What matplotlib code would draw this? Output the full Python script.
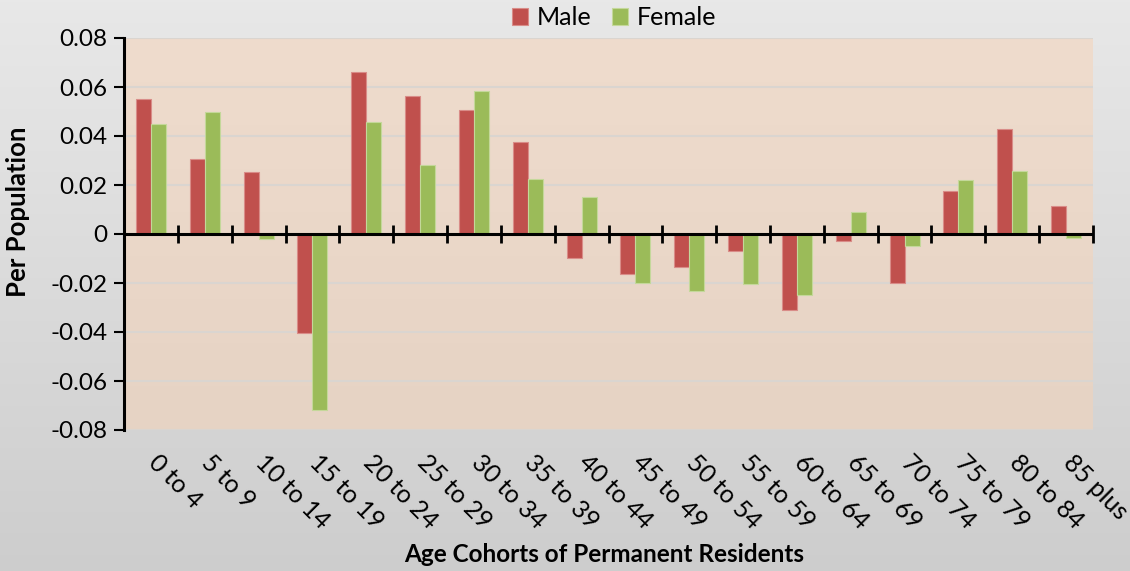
import numpy as np
import matplotlib
matplotlib.use("Agg")
import matplotlib.pyplot as plt
from matplotlib.ticker import FixedLocator, FuncFormatter

plt.rcParams['font.family'] = ['Lato', 'DejaVu Sans']
plt.rcParams['axes.unicode_minus'] = False

# data
cohorts = ['0 to 4', '5 to 9', '10 to 14', '15 to 19', '20 to 24', '25 to 29',
           '30 to 34', '35 to 39', '40 to 44', '45 to 49', '50 to 54', '55 to 59',
           '60 to 64', '65 to 69', '70 to 74', '75 to 79', '80 to 84', '85 plus']
male = [0.055, 0.0305, 0.0252, -0.0403, 0.0661, 0.0565,
        0.0507, 0.0377, -0.0096, -0.0163, -0.0134, -0.0071,
        -0.0310, -0.0027, -0.0199, 0.0175, 0.0430, 0.0115]
female = [0.045, 0.0498, -0.0020, -0.0717, 0.0458, 0.0282,
          0.0584, 0.0224, 0.0152, -0.0200, -0.0232, -0.0205,
          -0.0250, 0.0088, -0.0049, 0.0220, 0.0256, -0.0015]
yticks = [-0.08, -0.06, -0.04, -0.02, 0, 0.02, 0.04, 0.06, 0.08]

W, H = 1130, 571
fig = plt.figure(figsize=(W / 100, H / 100), dpi=100)

# grey gradient behind everything
bg = fig.add_axes([0, 0, 1, 1], zorder=-10)
grad = np.linspace(0, 1, 256).reshape(-1, 1)
top_c = np.array([0.910, 0.910, 0.910])
bot_c = np.array([0.805, 0.805, 0.805])
img = top_c + (bot_c - top_c) * grad[..., None]
bg.imshow(img, aspect='auto', extent=[0, 1, 0, 1], origin='upper')
bg.axis('off')

ax = fig.add_axes([124 / W, 1 - 430 / H, (1093 - 124) / W, (430 - 38) / H])
ax.set_xlim(-0.5, len(cohorts) - 0.5)
ax.set_ylim(-0.08, 0.08)

# beige plot area gradient
p_top = np.array([0xef, 0xdc, 0xcd]) / 255
p_bot = np.array([0xe6, 0xd3, 0xc4]) / 255
pimg = p_top + (p_bot - p_top) * grad[..., None]
ax.imshow(pimg, aspect='auto', extent=[-0.5, len(cohorts) - 0.5, -0.08, 0.08],
          origin='upper', zorder=0)

for y in yticks:
    if y != 0:
        ax.axhline(y, color='#dad5d0', lw=1.5, zorder=1)

x = np.arange(len(cohorts))
bw = 0.28
ax.bar(x - bw / 2, male, bw, color='#c0504d', edgecolor='#d98c88', lw=0.8,
       label='Male', zorder=2)
ax.bar(x + bw / 2, female, bw, color='#9bbb59', edgecolor='#c4d89a', lw=0.8,
       label='Female', zorder=2)

# spines: y-axis at left, x-axis through zero
for s in ['top', 'right', 'bottom']:
    ax.spines[s].set_visible(False)
ax.spines['left'].set_linewidth(2.2)
ax.axhline(0, color='black', lw=2.2, zorder=3)
for b in np.arange(0.5, len(cohorts), 1.0):
    ax.plot([b, b], [-0.0035, 0.0035], color='black', lw=2, zorder=3,
            solid_capstyle='butt', clip_on=False)

ax.set_xticks([])
ax.yaxis.set_major_locator(FixedLocator(yticks))
ax.yaxis.set_major_formatter(FuncFormatter(lambda v, p: '0' if abs(v) < 1e-9 else '%.2f' % v))
ax.tick_params(axis='y', direction='out', length=7, width=1.5, labelsize=17.5,
               pad=5, colors='black')

# rotated category labels below the plot
for i, lab in enumerate(cohorts):
    ax.text(i + 0.17, -0.0885, lab, rotation=-45, rotation_mode='anchor',
            ha='left', va='top', fontsize=18, transform=ax.transData,
            clip_on=False)

fig.text(18 / W, 1 - 212 / H, 'Per Population', rotation=90, fontsize=18.5,
         fontweight='bold', ha='center', va='center')
fig.text(604 / W, 1 - 555 / H, 'Age Cohorts of Permanent Residents', fontsize=17.5,
         fontweight='bold', ha='center', va='center')

ax.legend(loc='lower center', bbox_to_anchor=(0.506, 0.99), ncol=2, frameon=False,
          fontsize=18, handlelength=0.65, handleheight=0.65, handletextpad=0.35,
          columnspacing=0.8, borderaxespad=0.1)

fig.savefig('out.png', dpi=100)
